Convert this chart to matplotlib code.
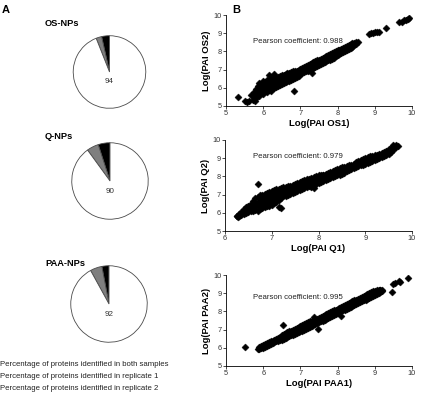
import matplotlib
matplotlib.use("Agg")
import matplotlib.pyplot as plt

plt.rcParams['font.family'] = ['Liberation Sans', 'DejaVu Sans']

W, H = 424, 397

# ---- Panel A data ----
pie_titles = ["OS-NPs", "Q-NPs", "PAA-NPs"]
both = [94, 90, 92]
rep1 = [2.5, 5, 5]
rep2 = [3.5, 5, 3]
legend_labels = ["Percentage of proteins identified in both samples",
                 "Percentage of proteins identified in replicate 1",
                 "Percentage of proteins identified in replicate 2"]

# ---- Panel B data: columns of points (x value, list of y values) ----
os_cols_x = [5.75, 5.80, 5.85, 5.90, 5.95, 6.00, 6.05, 6.10, 6.15, 6.20, 6.25, 6.30, 6.35, 6.40,
             6.45, 6.50, 6.55, 6.60, 6.65, 6.70, 6.75, 6.80, 6.85, 6.90, 6.95, 7.00, 7.05, 7.10,
             7.15, 7.20, 7.25, 7.30, 7.35, 7.40, 7.45, 7.50, 7.55, 7.60, 7.65, 7.70, 7.75, 7.80,
             7.85, 7.90, 7.95, 8.00, 8.05, 8.10, 8.15, 8.20, 8.25, 8.30, 8.35, 8.40, 8.45, 8.50,
             8.55]
os_cols_y = [[5.5, 5.75], [5.45, 5.7, 5.95], [5.6, 5.85, 6.1], [5.55, 5.8, 6.05, 6.25],
             [5.7, 5.95, 6.2], [5.65, 5.9, 6.15, 6.35], [5.8, 6.05, 6.3], [5.75, 6.0, 6.25, 6.45],
             [5.9, 6.15, 6.4], [5.85, 6.1, 6.35, 6.55], [6.0, 6.25, 6.5], [6.0, 6.25, 6.5],
             [6.05, 6.3, 6.55], [6.1, 6.35, 6.6], [6.15, 6.4, 6.65], [6.2, 6.45, 6.7],
             [6.25, 6.45, 6.7], [6.3, 6.5, 6.75], [6.35, 6.55, 6.8], [6.4, 6.6, 6.8],
             [6.45, 6.65, 6.85], [6.5, 6.7, 6.9], [6.55, 6.75, 6.95], [6.6, 6.8, 6.95],
             [6.65, 6.85, 7.0], [6.75, 6.9, 7.05], [6.8, 6.95, 7.1], [6.85, 7.0, 7.15],
             [6.9, 7.05, 7.2], [6.95, 7.1, 7.25], [7.0, 7.15, 7.3], [7.05, 7.2, 7.35],
             [7.1, 7.25, 7.4], [7.15, 7.3, 7.45], [7.2, 7.35, 7.5], [7.25, 7.4, 7.55],
             [7.3, 7.45, 7.6], [7.35, 7.5, 7.65], [7.4, 7.55, 7.7], [7.45, 7.6, 7.75],
             [7.5, 7.65, 7.8], [7.55, 7.7, 7.85], [7.6, 7.75, 7.9], [7.65, 7.8, 7.95],
             [7.75, 7.85, 8.0], [7.8, 7.9, 8.05], [7.85, 7.95, 8.1], [7.9, 8.0, 8.15],
             [7.95, 8.05, 8.2], [8.0, 8.1, 8.25], [8.1, 8.2, 8.3], [8.15, 8.25, 8.35],
             [8.2, 8.3, 8.4], [8.25, 8.35, 8.45], [8.35, 8.45], [8.4, 8.5], [8.5]]
os_extra_x = [5.31, 5.52, 5.56, 5.62, 5.67, 5.72, 5.78, 6.84, 7.31, 6.16, 6.30,
              8.85, 8.90, 8.95, 9.00, 9.05, 9.12, 9.30, 9.66, 9.72, 9.78, 9.84, 9.90, 9.93]
os_extra_y = [5.50, 5.27, 5.22, 5.30, 5.60, 5.35, 5.28, 5.80, 6.80, 6.70, 6.75,
              8.95, 9.00, 9.00, 9.05, 9.05, 9.05, 9.30, 9.60, 9.62, 9.70, 9.72, 9.80, 9.85]

q_cols_x = [6.25, 6.30, 6.35, 6.40, 6.45, 6.50, 6.55, 6.60, 6.65, 6.70, 6.75, 6.80, 6.85, 6.90,
            6.95, 7.00, 7.05, 7.10, 7.15, 7.20, 7.25, 7.30, 7.35, 7.40, 7.45, 7.50, 7.55, 7.60,
            7.65, 7.70, 7.75, 7.80, 7.85, 7.90, 7.95, 8.00, 8.05, 8.10, 8.15, 8.20, 8.25, 8.30,
            8.35, 8.40, 8.45, 8.50, 8.55, 8.60, 8.65, 8.70, 8.75, 8.80, 8.85, 8.90, 8.95, 9.00,
            9.05, 9.10, 9.15, 9.20, 9.25, 9.30, 9.35, 9.40, 9.45, 9.50, 9.55, 9.60, 9.65, 9.70]
q_cols_y = [[5.8, 5.85], [5.8, 5.95], [5.9, 6.05], [5.95, 6.1, 6.2], [6.0, 6.15, 6.3],
            [6.05, 6.2, 6.4], [6.1, 6.3, 6.5], [6.1, 6.3, 6.5, 6.65], [6.15, 6.35, 6.55, 6.8],
            [6.1, 6.35, 6.6, 6.85, 7.6], [6.2, 6.4, 6.6, 6.8, 7.0], [6.25, 6.45, 6.65, 6.85, 7.0],
            [6.3, 6.5, 6.7, 6.9, 7.05], [6.35, 6.55, 6.75, 6.95, 7.1], [6.4, 6.6, 6.8, 7.0, 7.15],
            [6.45, 6.65, 6.85, 7.05, 7.2], [6.55, 6.75, 6.95, 7.1, 7.25], [6.6, 6.8, 7.0, 7.15, 7.3],
            [6.3, 6.7, 6.9, 7.1, 7.3], [6.25, 6.8, 7.0, 7.15, 7.35], [6.9, 7.05, 7.2, 7.4],
            [6.95, 7.1, 7.25, 7.4], [7.0, 7.15, 7.3, 7.45], [7.05, 7.2, 7.35, 7.5],
            [7.1, 7.25, 7.4, 7.55], [7.15, 7.3, 7.45, 7.6], [7.2, 7.35, 7.5, 7.65],
            [7.25, 7.4, 7.55, 7.7], [7.3, 7.45, 7.6, 7.75], [7.35, 7.5, 7.65, 7.8],
            [7.4, 7.55, 7.7, 7.85], [7.45, 7.6, 7.75, 7.85], [7.4, 7.5, 7.65, 7.8, 7.9],
            [7.35, 7.55, 7.7, 7.85, 7.95], [7.6, 7.75, 7.9, 8.0], [7.65, 7.8, 7.95, 8.05],
            [7.7, 7.85, 8.0, 8.1], [7.75, 7.9, 8.05, 8.1], [7.8, 7.95, 8.1, 8.15],
            [7.85, 8.0, 8.1, 8.2], [7.9, 8.05, 8.15, 8.25], [7.95, 8.1, 8.2, 8.3],
            [8.0, 8.15, 8.25, 8.35], [8.05, 8.2, 8.3, 8.4], [8.1, 8.25, 8.35, 8.45],
            [8.15, 8.3, 8.4, 8.5], [8.2, 8.35, 8.45, 8.5], [8.3, 8.4, 8.55], [8.35, 8.45, 8.6],
            [8.4, 8.5, 8.65], [8.45, 8.6, 8.7], [8.5, 8.65, 8.8], [8.55, 8.7, 8.85],
            [8.6, 8.75, 8.9], [8.65, 8.8, 8.95], [8.7, 8.85, 9.0], [8.75, 8.9, 9.05],
            [8.8, 8.95, 9.1], [8.85, 9.0, 9.1], [8.9, 9.05, 9.15], [8.95, 9.1, 9.2],
            [9.0, 9.15, 9.25], [9.05, 9.2, 9.3], [9.1, 9.25, 9.35], [9.2, 9.3, 9.4],
            [9.25, 9.35, 9.5], [9.35, 9.45, 9.55], [9.45, 9.55, 9.75], [9.6, 9.75], [9.65]]
q_extra_x = [6.27]
q_extra_y = [5.79]

paa_cols_x = [5.85, 5.90, 5.95, 6.00, 6.05, 6.10, 6.15, 6.20, 6.25, 6.30, 6.35, 6.40, 6.45, 6.50,
              6.55, 6.60, 6.65, 6.70, 6.75, 6.80, 6.85, 6.90, 6.95, 7.00, 7.05, 7.10, 7.15, 7.20,
              7.25, 7.30, 7.35, 7.40, 7.45, 7.50, 7.55, 7.60, 7.65, 7.70, 7.75, 7.80, 7.85, 7.90,
              7.95, 8.00, 8.05, 8.10, 8.15, 8.20, 8.25, 8.30, 8.35, 8.40, 8.45, 8.50, 8.55, 8.60,
              8.65, 8.70, 8.75, 8.80, 8.85, 8.90, 8.95, 9.00, 9.05, 9.10, 9.15, 9.20]
paa_cols_y = [[5.95], [5.95, 6.05], [6.0, 6.1], [6.0, 6.15], [6.05, 6.2], [6.1, 6.25],
              [6.15, 6.3], [6.2, 6.35], [6.25, 6.4], [6.3, 6.45], [6.35, 6.5], [6.4, 6.55],
              [6.45, 6.6], [6.45, 6.6, 6.7], [6.5, 6.65, 6.75], [6.55, 6.7, 6.8],
              [6.6, 6.75, 6.85], [6.65, 6.8, 6.9], [6.7, 6.85, 6.95], [6.7, 6.85, 7.0],
              [6.75, 6.9, 7.05], [6.8, 6.95, 7.1], [6.85, 7.0, 7.15], [6.9, 7.05, 7.2],
              [6.95, 7.1, 7.25], [7.0, 7.15, 7.3], [7.05, 7.2, 7.35], [7.1, 7.25, 7.4],
              [7.15, 7.3, 7.45], [7.2, 7.35, 7.5], [7.25, 7.4, 7.5], [7.3, 7.45, 7.55],
              [7.35, 7.5, 7.6], [7.4, 7.55, 7.65], [7.45, 7.6, 7.7], [7.5, 7.65, 7.75],
              [7.55, 7.7, 7.8], [7.6, 7.75, 7.85], [7.65, 7.8, 7.9], [7.7, 7.85, 7.95],
              [7.75, 7.9, 8.0], [7.8, 7.95, 8.05], [7.85, 8.0, 8.1], [7.9, 8.05, 8.15],
              [7.95, 8.1, 8.2], [8.0, 8.15, 8.25], [8.05, 8.2, 8.3], [8.1, 8.25, 8.35],
              [8.15, 8.3, 8.4], [8.2, 8.35, 8.45], [8.25, 8.4, 8.5], [8.3, 8.45, 8.55],
              [8.35, 8.5, 8.6], [8.4, 8.55, 8.65], [8.45, 8.6, 8.7], [8.5, 8.65, 8.75],
              [8.55, 8.7, 8.8], [8.6, 8.75, 8.85], [8.65, 8.8, 8.9], [8.7, 8.85, 8.95],
              [8.75, 8.9, 9.0], [8.8, 8.95, 9.05], [8.85, 9.0, 9.1], [8.9, 9.05, 9.1],
              [8.95, 9.05, 9.15], [9.0, 9.1, 9.2], [9.05, 9.15, 9.2], [9.1, 9.2]]
paa_extra_x = [5.52, 6.52, 7.37, 7.46, 8.09, 9.46, 9.50, 9.55, 9.64, 9.68, 9.88]
paa_extra_y = [6.02, 7.25, 7.71, 7.05, 7.77, 9.05, 9.50, 9.58, 9.65, 9.62, 9.82]

pearson = [0.988, 0.979, 0.995]
xlabels = ["Log(PAI OS1)", "Log(PAI Q1)", "Log(PAI PAA1)"]
ylabels = ["Log(PAI OS2)", "Log(PAI Q2)", "Log(PAI PAA2)"]
xlims = [(5, 10), (6, 10), (5, 10)]
ylims = [(5, 10), (5, 10), (5, 10)]
pearson_pos = [(5.73, 8.52), (6.6, 9.07), (5.73, 8.75)]


def flatten(cols_x, cols_y, extra_x, extra_y):
    xs, ys = [], []
    for cx, cy in zip(cols_x, cols_y):
        for v in cy:
            xs.append(cx)
            ys.append(v)
    return xs + list(extra_x), ys + list(extra_y)


fig = plt.figure(figsize=(W / 100, H / 100), dpi=100)


def fx(px):
    return px / W


def fy(py):
    return 1 - py / H


# Panel labels
fig.text(fx(2), fy(10), "A", fontsize=8, fontweight='bold', va='center', ha='left')
fig.text(fx(232), fy(10), "B", fontsize=8, fontweight='bold', va='center', ha='left')

# Pies
pie_geo = [(109.5, 72, 37), (110, 181, 39), (109, 304, 39)]
title_y = [24, 137, 263]
for i in range(3):
    cx, cy, r = pie_geo[i]
    ax = fig.add_axes([fx(cx - r), fy(cy + r), 2 * r / W, 2 * r / H])
    vals = [rep2[i], rep1[i], both[i]]
    ax.pie(vals, colors=['black', '#7f7f7f', 'white'], startangle=90,
           counterclock=True,
           wedgeprops=dict(edgecolor='#4a4a4a', linewidth=0.6))
    ax.set_xlim(-1.02, 1.02)
    ax.set_ylim(-1.02, 1.02)
    ax.set_aspect('auto')
    ax.axis('off')
    ax.text(0, -0.27, str(both[i]), ha='center', va='center', fontsize=5.8, color='#333333')
    fig.text(fx(45), fy(title_y[i]), pie_titles[i], fontsize=6.7, fontweight='bold',
             ha='left', va='center')

# Legend text
for j, lab in enumerate(legend_labels):
    fig.text(fx(0.5), fy(364 + 12 * j), lab, fontsize=5.6, color='#222222',
             ha='left', va='center')

# Scatter panels
ax_geo = [(226, 412, 15, 106), (225, 412, 140, 231), (226, 412, 275, 366)]
data = [flatten(os_cols_x, os_cols_y, os_extra_x, os_extra_y),
        flatten(q_cols_x, q_cols_y, q_extra_x, q_extra_y),
        flatten(paa_cols_x, paa_cols_y, paa_extra_x, paa_extra_y)]
for i in range(3):
    l, r, t, b = ax_geo[i]
    ax = fig.add_axes([fx(l), fy(b), (r - l) / W, (b - t) / H])
    x, y = data[i]
    ax.scatter(x, y, marker='D', s=13, color='black', linewidths=0.3, edgecolors='black')
    ax.set_xlim(*xlims[i])
    ax.set_ylim(*ylims[i])
    ax.set_xticks(range(xlims[i][0], xlims[i][1] + 1))
    ax.set_yticks(range(ylims[i][0], ylims[i][1] + 1))
    for s in ['top', 'right']:
        ax.spines[s].set_visible(False)
    for s in ['left', 'bottom']:
        ax.spines[s].set_linewidth(0.6)
    ax.tick_params(labelsize=5.3, length=2, width=0.5, pad=1, colors='black', labelcolor='#333333')
    ax.set_xlabel(xlabels[i], fontsize=6.8, fontweight='bold', labelpad=1)
    ax.set_ylabel(ylabels[i], fontsize=6.8, fontweight='bold', labelpad=2)
    px, py = pearson_pos[i]
    ax.text(px, py, "Pearson coefficient: %.3f" % pearson[i], fontsize=5.6, ha='left',
            va='center', color='#222222')

fig.savefig("out.png", dpi=100)
